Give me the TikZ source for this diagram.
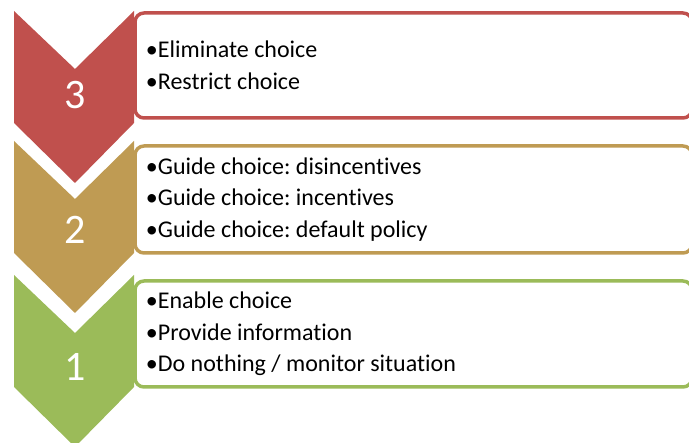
\documentclass[tikz,border=0pt]{standalone}
\usepackage{fontspec}
\setmainfont[Ligatures=CommonOff]{Carlito}

\definecolor{levelred}{HTML}{C0504D}
\definecolor{leveltan}{HTML}{BF9B53}
\definecolor{levelgreen}{HTML}{9BBB59}

\tikzset{
  itembox/.style={draw=#1, line width=3.5pt, fill=white, rounded corners=9pt,
    minimum width=557pt, inner sep=0pt},
  levelnum/.style={text=white, font=\fontsize{42}{42}\selectfont, inner sep=0pt},
  itemlist/.style={anchor=west, align=left, inner sep=0pt,
    font=\fontsize{24}{31.5}\selectfont\frenchspacing}
}

\begin{document}
\begin{tikzpicture}[x=1pt,y=1pt]
        \useasboundingbox (0,0) rectangle (689,443);

        % Chevrons: colour / top edge / number height
        \foreach \col/\top/\num/\lbl in {levelred/432/348/3, leveltan/302/213/2, levelgreen/168/76/1}{
            \fill[\col] (14,\top) -- (75,\top-58) -- (134,\top) -- (134,\top-112)
                -- (75,\top-172) -- (14,\top-112) -- cycle;
            \node[levelnum] (num\lbl) at (75,\num) {\lbl};
        }

        % Text boxes
        \node[itembox=levelred, minimum height=105pt] (box3) at (413.5,377.5) {};
        \node[itembox=leveltan, minimum height=107pt] (box2) at (413.5,243.5) {};
        \node[itembox=levelgreen, minimum height=106pt] (box1) at (413.5,109) {};

        % Bullet lists
        \node[itemlist] (list3) at ([xshift=12.5pt]box3.west) {•Eliminate choice\\•Restrict choice};
        \node[itemlist] (list2) at ([xshift=12.5pt]box2.west) {•Guide choice: disincentives\\•Guide choice: incentives\\•Guide choice: default policy};
        \node[itemlist] (list1) at ([xshift=12.5pt]box1.west) {•Enable choice\\•Provide information\\•Do nothing / monitor situation};
\end{tikzpicture}
\end{document}
